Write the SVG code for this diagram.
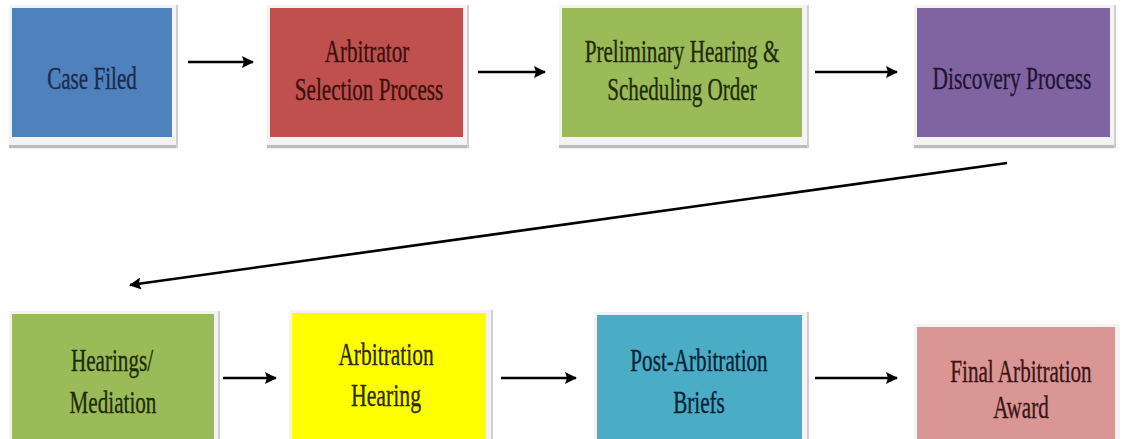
<svg xmlns="http://www.w3.org/2000/svg" width="1123" height="439" viewBox="0 0 1123 439">
<defs>
<style>
.frame{fill:#f3f3f3}
.sb{fill:#bcbcbc}
.sr{fill:#cfcfcf}
.t{font-family:"Liberation Serif","Times New Roman",serif;font-size:32px;text-anchor:middle;stroke-width:0.35}
.c{stroke:#000;stroke-width:2.6;fill:none;marker-end:url(#ah)}
</style>
<marker id="ah" markerUnits="userSpaceOnUse" markerWidth="12" markerHeight="12" refX="11" refY="6" orient="auto">
<path d="M0,0 L12,6 L0,12 L2,6 Z" fill="#000"/>
</marker>
</defs>
<rect width="1123" height="439" fill="#fff"/>

<g id="n1">
<rect class="frame" x="9" y="5" width="169" height="144"/>
<rect class="sb" x="9" y="145" width="169" height="3"/>
<rect class="sr" x="176" y="5" width="2" height="143"/>
<rect x="12" y="8" width="160" height="129" fill="#4F81BD"/>
<text class="t" fill="#1b2a4c" stroke="#1b2a4c" transform="translate(92 89) scale(0.66 1)">Case Filed</text>
</g>

<g id="n2">
<rect class="frame" x="267" y="5" width="202" height="144"/>
<rect class="sb" x="267" y="145" width="202" height="3"/>
<rect class="sr" x="467" y="5" width="2" height="143"/>
<rect x="270" y="8" width="193" height="129" fill="#C0504D"/>
<text class="t" fill="#3a1010" stroke="#3a1010" transform="translate(367 62) scale(0.66 1)">Arbitrator</text>
<text class="t" fill="#3a1010" stroke="#3a1010" transform="translate(369 100) scale(0.66 1)">Selection Process</text>
</g>

<g id="n3">
<rect class="frame" x="559" y="5" width="250" height="144"/>
<rect class="sb" x="559" y="145" width="250" height="3"/>
<rect class="sr" x="807" y="5" width="2" height="143"/>
<rect x="562" y="8" width="240" height="129" fill="#9BBB59"/>
<text class="t" fill="#1f2b0a" stroke="#1f2b0a" transform="translate(682 62) scale(0.66 1)">Preliminary Hearing &amp;</text>
<text class="t" fill="#1f2b0a" stroke="#1f2b0a" transform="translate(682 100) scale(0.66 1)">Scheduling Order</text>
</g>

<g id="n4">
<rect class="frame" x="914" y="5" width="202" height="144"/>
<rect class="sb" x="914" y="145" width="202" height="3"/>
<rect class="sr" x="1114" y="5" width="2" height="143"/>
<rect x="917" y="8" width="193" height="129" fill="#8064A2"/>
<text class="t" fill="#1e1535" stroke="#1e1535" transform="translate(1012 89) scale(0.67 1)">Discovery Process</text>
</g>

<g id="n5">
<rect class="frame" x="9" y="311" width="211" height="135"/>
<rect class="sr" x="218" y="311" width="2" height="135"/>
<rect x="12" y="314" width="202" height="130" fill="#9BBB59"/>
<text class="t" fill="#1f2b0a" stroke="#1f2b0a" transform="translate(112 371) scale(0.66 1)">Hearings/</text>
<text class="t" fill="#1f2b0a" stroke="#1f2b0a" transform="translate(113 413) scale(0.66 1)">Mediation</text>
</g>

<g id="n6">
<rect class="frame" x="289" y="310" width="204" height="135"/>
<rect class="sr" x="491" y="310" width="2" height="135"/>
<rect x="292" y="313" width="194" height="130" fill="#FFFF00"/>
<text class="t" fill="#2a2a05" stroke="#2a2a05" transform="translate(386 365) scale(0.67 1)">Arbitration</text>
<text class="t" fill="#2a2a05" stroke="#2a2a05" transform="translate(386 406) scale(0.68 1)">Hearing</text>
</g>

<g id="n7">
<rect class="frame" x="594" y="312" width="215" height="135"/>
<rect class="sr" x="807" y="312" width="2" height="135"/>
<rect x="597" y="315" width="205" height="130" fill="#4BACC6"/>
<text class="t" fill="#0c2233" stroke="#0c2233" transform="translate(699 371) scale(0.66 1)">Post-Arbitration</text>
<text class="t" fill="#0c2233" stroke="#0c2233" transform="translate(699 413) scale(0.66 1)">Briefs</text>
</g>

<g id="n8">
<rect class="frame" x="914" y="324" width="206" height="120"/>
<rect x="917" y="327" width="198" height="115" fill="#D99694"/>
<text class="t" fill="#3a1515" stroke="#3a1515" transform="translate(1021 382) scale(0.66 1)">Final Arbitration</text>
<text class="t" fill="#3a1515" stroke="#3a1515" transform="translate(1021 418) scale(0.66 1)">Award</text>
</g>

<g id="connectors">
<line class="c" x1="188" y1="62" x2="253" y2="62"/>
<line class="c" x1="478" y1="72" x2="545" y2="72"/>
<line class="c" x1="815" y1="72" x2="897" y2="72"/>
<line class="c" x1="1007" y1="163" x2="130" y2="285"/>
<line class="c" x1="223" y1="378" x2="276" y2="378"/>
<line class="c" x1="501" y1="378" x2="576" y2="378"/>
<line class="c" x1="815" y1="378" x2="897" y2="378"/>
</g>
</svg>
